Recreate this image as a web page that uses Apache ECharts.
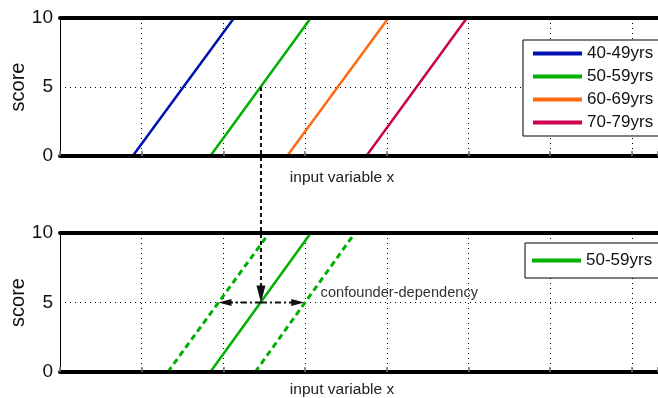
<!DOCTYPE html>
<html>
<head>
<meta charset="utf-8">
<script src="https://cdn.jsdelivr.net/npm/echarts@6/dist/echarts.min.js"></script>
<style>
html,body{margin:0;padding:0;background:#fff;overflow:hidden;}
#c{width:658px;height:398px;}
</style>
</head>
<body>
<div id="c"></div>
<script>
// ---- data ----
const xMin = 0;
const xMax = 7.32;
const yTicks = [0, 5, 10];
const ageGroups = ['40-49yrs', '50-59yrs', '60-69yrs', '70-79yrs'];
const line40 = [[0.89, 0], [2.13, 10]];
const line50 = [[1.84, 0], [3.07, 10]];
const line60 = [[2.78, 0], [4.02, 10]];
const line70 = [[3.75, 0], [4.98, 10]];
const bottomSolid = [[1.84, 0], [3.07, 10]];
const bottomLeftDashed = [[1.32, 0], [2.56, 10]];
const bottomRightDashed = [[2.39, 0], [3.61, 10]];
const arrowCenter = [2.46, 5];
const arrowLeft = [1.94, 5];
const arrowRight = [2.99, 5];
const annotationText = 'confounder-dependency';
const annotationAt = [3.19, 5.7];
const xLabel = 'input variable x';
const yLabel = 'score';

const colors = ['#0010b0', '#00b000', '#ff6a10', '#cc0050'];
const FONT = 'Liberation Sans, Arial, sans-serif';

const chart = echarts.init(document.getElementById('c'), null, {renderer: 'canvas'});

function xAxesFor(grid, nameGap) {
  return [
    { // bottom thick line + ticks + name
      type: 'value', gridIndex: grid, position: 'bottom', min: xMin, max: xMax, interval: 1, z: 3,
      axisLine: {show: true, onZero: false, lineStyle: {color: '#000', width: 4}},
      axisTick: {show: true, inside: true, length: 5, lineStyle: {color: '#777', width: 1.5}},
      axisLabel: {show: false},
      splitLine: {show: false},
      name: xLabel, nameLocation: 'middle', nameGap: nameGap, nameMoveOverlap: false,
      nameTextStyle: {fontFamily: FONT, fontSize: 15.5, color: '#222', padding: [0, 34, 0, 0]}
    },
    { // top thick line
      type: 'value', gridIndex: grid, position: 'top', min: xMin, max: xMax, interval: 1, z: 3,
      axisLine: {show: true, onZero: false, lineStyle: {color: '#000', width: 4}},
      axisTick: {show: false}, axisLabel: {show: false}, splitLine: {show: false}
    },
    { // grid lines
      type: 'value', gridIndex: grid, position: 'bottom', min: xMin, max: xMax, interval: 1, z: 0,
      axisLine: {show: false}, axisTick: {show: false}, axisLabel: {show: false},
      splitLine: {show: true, lineStyle: {color: '#000', width: 1, type: [1, 4]}}
    }
  ];
}

function yAxisFor(grid) {
  return {
    type: 'value', gridIndex: grid, min: yTicks[0], max: yTicks[yTicks.length - 1], interval: 5,
    axisLine: {show: true, lineStyle: {color: '#000', width: 1}},
    axisTick: {show: false},
    axisLabel: {fontFamily: FONT, fontSize: 19, color: '#111', margin: 7},
    splitLine: {show: true, lineStyle: {color: '#000', width: 1, type: [1, 4]}},
    name: yLabel, nameLocation: 'middle', nameGap: 32, nameRotate: 90, nameMoveOverlap: false,
    nameTextStyle: {fontFamily: FONT, fontSize: 20, color: '#111'}
  };
}

function lineSeries(name, data, color, xi, yi, dashed) {
  return {
    name: name, type: 'line', data: data, xAxisIndex: xi, yAxisIndex: yi,
    symbol: 'none', silent: true, animation: false, z: 2,
    lineStyle: {color: color, width: dashed ? 3 : 2.5, type: dashed ? [6, 4] : 'solid'},
    itemStyle: {color: color}
  };
}

const legendCommon = {
  orient: 'vertical', icon: 'rect', itemWidth: 49, itemHeight: 4, itemGap: 6, itemTextGap: 6,
  backgroundColor: '#fff', borderColor: '#000', borderWidth: 1, borderRadius: 0,
  textStyle: {fontFamily: FONT, fontSize: 17, color: '#111'},
  selectedMode: false
};

chart.setOption({
  animation: false,
  grid: [
    {left: 60, right: 0, top: 18, height: 138, outerBoundsMode: 'none', containLabel: false},
    {left: 60, right: 0, top: 233, height: 139, outerBoundsMode: 'none', containLabel: false}
  ],
  xAxis: xAxesFor(0, 14).concat(xAxesFor(1, 10)),
  yAxis: [yAxisFor(0), yAxisFor(1)],
  legend: [
    Object.assign({}, legendCommon, {data: ageGroups, left: 523, top: 40, padding: [5, 10, 5, 10]}),
    Object.assign({}, legendCommon, {data: [ageGroups[1]], left: 525, top: 243, padding: [9, 10, 9, 7]})
  ],
  series: [
    lineSeries(ageGroups[0], line40, colors[0], 0, 0),
    lineSeries(ageGroups[1], line50, colors[1], 0, 0),
    lineSeries(ageGroups[2], line60, colors[2], 0, 0),
    lineSeries(ageGroups[3], line70, colors[3], 0, 0),
    lineSeries(ageGroups[1], bottomSolid, colors[1], 3, 1),
    lineSeries('', bottomLeftDashed, colors[1], 3, 1, true),
    lineSeries('', bottomRightDashed, colors[1], 3, 1, true)
  ]
});

// ---- annotations, positioned through the axes ----
const pTop = chart.convertToPixel({xAxisIndex: 0, yAxisIndex: 0}, arrowCenter);
const pBot = chart.convertToPixel({xAxisIndex: 3, yAxisIndex: 1}, arrowCenter);
const pL = chart.convertToPixel({xAxisIndex: 3, yAxisIndex: 1}, arrowLeft);
const pR = chart.convertToPixel({xAxisIndex: 3, yAxisIndex: 1}, arrowRight);
const pT = chart.convertToPixel({xAxisIndex: 3, yAxisIndex: 1}, annotationAt);
const vHead = 17, vHalf = 4.5, hHead = 13, hHalf = 3.5;
const blk = '#111';

chart.setOption({
  graphic: [
    {type: 'line', z: 10, shape: {x1: pTop[0], y1: pTop[1], x2: pBot[0], y2: pBot[1] - vHead + 2},
      style: {stroke: blk, lineWidth: 2, lineDash: [4, 3]}},
    {type: 'polygon', z: 10, shape: {points: [[pBot[0], pBot[1]], [pBot[0] - vHalf, pBot[1] - vHead], [pBot[0] + vHalf, pBot[1] - vHead]]},
      style: {fill: blk}},
    {type: 'line', z: 10, shape: {x1: pBot[0], y1: pBot[1], x2: pL[0] + hHead - 2, y2: pL[1]},
      style: {stroke: blk, lineWidth: 2, lineDash: [6, 3, 2, 3]}},
    {type: 'line', z: 10, shape: {x1: pBot[0], y1: pBot[1], x2: pR[0] - hHead + 2, y2: pR[1]},
      style: {stroke: blk, lineWidth: 2, lineDash: [6, 3, 2, 3]}},
    {type: 'polygon', z: 10, shape: {points: [[pL[0], pL[1]], [pL[0] + hHead, pL[1] - hHalf], [pL[0] + hHead, pL[1] + hHalf]]},
      style: {fill: blk}},
    {type: 'polygon', z: 10, shape: {points: [[pR[0], pR[1]], [pR[0] - hHead, pR[1] - hHalf], [pR[0] - hHead, pR[1] + hHalf]]},
      style: {fill: blk}},
    {type: 'text', z: 10, x: pT[0], y: pT[1],
      style: {text: annotationText, fill: '#333', font: '14.6px ' + FONT, textAlign: 'left', textVerticalAlign: 'middle'}}
  ]
});
</script>
</body>
</html>
